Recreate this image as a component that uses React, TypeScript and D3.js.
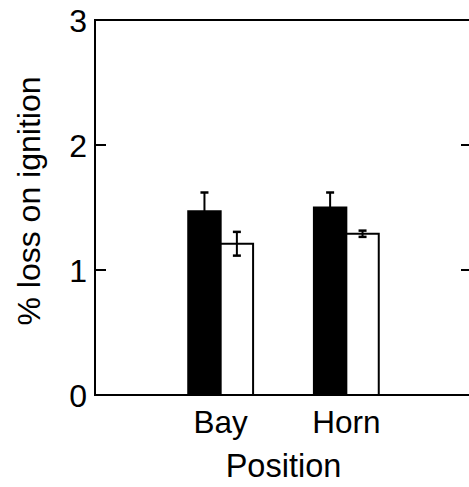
import React, { useRef, useEffect } from 'react';
import * as d3 from 'd3';

const categories = ['Bay', 'Horn'];
const blackValues = [1.47, 1.5];
const blackErrors = [0.15, 0.12];
const whiteValues = [1.21, 1.29];
const whiteErrors = [0.095, 0.025];
const yTicks = [0, 1, 2, 3];

export default function App() {
  const svgRef = useRef<SVGSVGElement>(null);

  useEffect(() => {
    if (!svgRef.current) return;
    const svg = d3.select(svgRef.current);
    svg.selectAll('*').remove();

    const left = 95;
    const right = 472;
    const top = 20;
    const bottom = 395;

    const x = d3.scaleLinear().domain([0, 3]).range([left, right]);
    const y = d3.scaleLinear().domain([0, 3]).range([bottom, top]);
    const barW = 0.258; // in x units

    const g = svg.append('g');
    const font = 'Arial, "Liberation Sans", sans-serif';

    // bars
    categories.forEach((c, i) => {
      const cx = i + 1;
      const series = [
        { v: blackValues[i], e: blackErrors[i], x0: cx - barW, fill: '#000' },
        { v: whiteValues[i], e: whiteErrors[i], x0: cx, fill: '#fff' },
      ];
      series.forEach(s => {
        g.append('rect')
          .attr('x', x(s.x0))
          .attr('y', y(s.v))
          .attr('width', x(s.x0 + barW) - x(s.x0))
          .attr('height', y(0) - y(s.v))
          .attr('fill', s.fill)
          .attr('stroke', '#000')
          .attr('stroke-width', 2);
        const mx = x(s.x0 + barW / 2);
        g.append('line')
          .attr('x1', mx).attr('x2', mx)
          .attr('y1', y(s.v - s.e)).attr('y2', y(s.v + s.e))
          .attr('stroke', '#000').attr('stroke-width', 2);
        [s.v - s.e, s.v + s.e].forEach(v => {
          g.append('line')
            .attr('x1', mx - 4).attr('x2', mx + 4)
            .attr('y1', y(v)).attr('y2', y(v))
            .attr('stroke', '#000').attr('stroke-width', 2.5);
        });
      });

      g.append('text')
        .attr('x', x(cx))
        .attr('y', 433)
        .attr('text-anchor', 'middle')
        .attr('font-family', font)
        .attr('font-size', 31.5)
        .text(c);
    });

    // frame
    g.append('rect')
      .attr('x', left).attr('y', top)
      .attr('width', right - left).attr('height', bottom - top)
      .attr('fill', 'none').attr('stroke', '#000').attr('stroke-width', 2);

    // ticks
    yTicks.forEach(t => {
      g.append('line')
        .attr('x1', left).attr('x2', left + 11)
        .attr('y1', y(t)).attr('y2', y(t))
        .attr('stroke', '#000').attr('stroke-width', 2);
      g.append('line')
        .attr('x1', right - 11).attr('x2', right)
        .attr('y1', y(t)).attr('y2', y(t))
        .attr('stroke', '#000').attr('stroke-width', 2);
      g.append('text')
        .attr('x', left - 8)
        .attr('y', y(t))
        .attr('dy', '0.36em')
        .attr('text-anchor', 'end')
        .attr('font-family', font)
        .attr('font-size', 32)
        .text(String(t));
    });

    g.append('text')
      .attr('x', (left + right) / 2)
      .attr('y', 477)
      .attr('text-anchor', 'middle')
      .attr('font-family', font)
      .attr('font-size', 32.5)
      .text('Position');

    g.append('text')
      .attr('transform', `translate(40,201) rotate(-90)`)
      .attr('text-anchor', 'middle')
      .attr('font-family', font)
      .attr('font-size', 32)
      .text('% loss on ignition');
  }, []);

  return (
    <svg
      ref={svgRef}
      width={469}
      height={487}
      style={{ position: 'absolute', left: 0, top: 0, background: '#fff' }}
    />
  );
}
